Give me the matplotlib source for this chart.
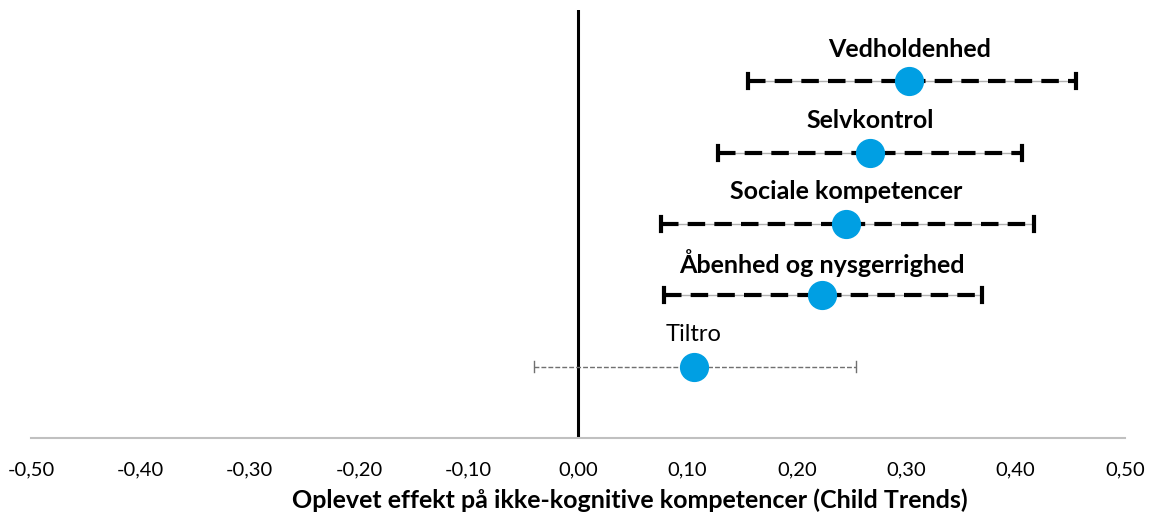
import matplotlib.pyplot as plt

labels = ["Vedholdenhed", "Selvkontrol", "Sociale kompetencer",
          "Åbenhed og nysgerrighed", "Tiltro"]
effect = [0.303, 0.267, 0.245, 0.223, 0.106]
ci_low = [0.155, 0.128, 0.076, 0.079, -0.040]
ci_high = [0.455, 0.406, 0.417, 0.369, 0.254]
bold = [True, True, True, True, False]
ypos = [5, 4, 3, 2, 1]
xticks = [-0.5, -0.4, -0.3, -0.2, -0.1, 0.0, 0.1, 0.2, 0.3, 0.4, 0.5]

plt.rcParams['font.family'] = ['Lato', 'DejaVu Sans']

fig = plt.figure(figsize=(11.57, 5.15), dpi=100)
ax = fig.add_axes([31 / 1157, 1 - 438 / 515, (1125 - 31) / 1157, 428 / 515])

ax.axvline(0, color='black', lw=2.2, zorder=1)

for lab, e, lo, hi, b, y in zip(labels, effect, ci_low, ci_high, bold, ypos):
    if b:
        ax.plot([lo, hi], [y, y], color='#b0b0b0', lw=1, zorder=2)
        ax.plot([lo, hi], [y, y], color='black', lw=3, dashes=(4.2, 2.2), zorder=3)
        ax.plot([lo, lo], [y - 0.1, y + 0.1], color='black', lw=3, zorder=3)
        ax.plot([hi, hi], [y - 0.1, y + 0.1], color='black', lw=3, zorder=3)
    else:
        ax.plot([lo, hi], [y, y], color='#707070', lw=1, dashes=(3.5, 1.5), zorder=2)
        ax.plot([lo, lo], [y - 0.08, y + 0.08], color='#707070', lw=1, zorder=2)
        ax.plot([hi, hi], [y - 0.08, y + 0.08], color='#707070', lw=1, zorder=2)
    ax.plot(e, y, 'o', color='#009fe3', markersize=20, zorder=4)
    ax.text(e, y + 0.45, lab, ha='center', va='center',
            fontsize=18 if b else 17,
            fontweight='bold' if b else 'normal', color='black')

ax.set_xlim(-0.5, 0.5)
ax.set_ylim(0, 6)
ax.set_xticks(xticks)
ax.set_xticklabels([f"{t:.2f}".replace('.', ',') for t in xticks], fontsize=14.5)
ax.tick_params(axis='x', length=0, pad=17)
ax.set_yticks([])
for s in ['top', 'right', 'left']:
    ax.spines[s].set_visible(False)
ax.spines['bottom'].set_color('#c0c0c0')
ax.spines['bottom'].set_linewidth(1.5)
ax.set_xlabel("Oplevet effekt på ikke-kognitive kompetencer (Child Trends)",
              fontsize=18, fontweight='bold')
ax.xaxis.set_label_coords((630 - 31) / 1094, -50 / 428)

fig.savefig('out.png', dpi=100)
